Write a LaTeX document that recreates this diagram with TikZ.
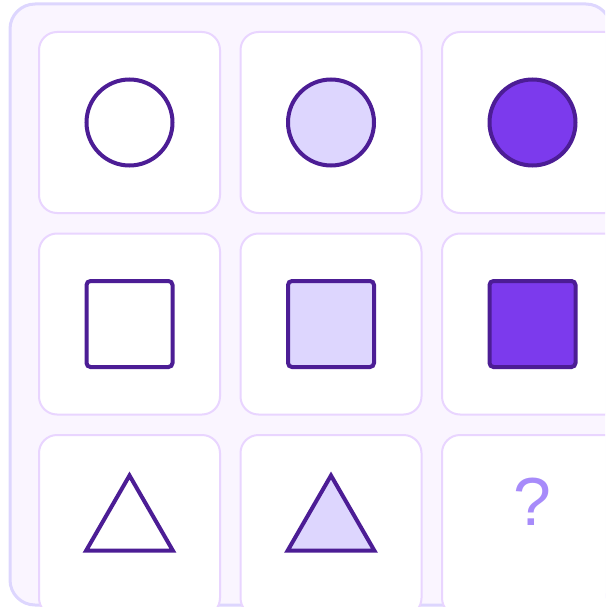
\documentclass[tikz,border=0pt]{standalone}
\usepackage{fontspec}
\setmainfont{Liberation Sans}
\definecolor{panelfill}{HTML}{FAF5FF}
\definecolor{panelline}{HTML}{DDD6FE}
\definecolor{cellline}{HTML}{E9D5FF}
\definecolor{shapeline}{HTML}{4C1D95}
\definecolor{lightfill}{HTML}{DDD6FE}
\definecolor{darkfill}{HTML}{7C3AED}
\definecolor{qcolor}{HTML}{A78BFA}
\begin{document}
\begin{tikzpicture}[x=1pt,y=-1pt,
  cellbox/.style={draw=cellline,line width=2pt,fill=white,rounded corners=18pt,minimum width=181pt,minimum height=181pt,inner sep=0pt},
  circ/.style={circle,draw=shapeline,line width=4pt,minimum size=86pt,inner sep=0pt},
  sq/.style={rectangle,draw=shapeline,line width=4pt,rounded corners=4pt,minimum size=86pt,inner sep=0pt},
  tri/.style={draw=shapeline,line width=4pt,line join=miter}]
\useasboundingbox (0,0) rectangle (605,607);
\begin{scope}
\clip (0,0) rectangle (605,607);
\draw[fill=panelfill,draw=panelline,line width=3pt,rounded corners=25pt] (10,4) rectangle (611,605);
% cells
\foreach \c/\x in {1/129.5,2/331,3/532.5}{
  \foreach \r/\y in {1/122.5,2/324,3/525.5}{
    \node[cellbox] (c\r\c) at (\x,\y) {};
  }
}
% circles
\node[circ,fill=white] (s11) at (c11.center) {};
\node[circ,fill=lightfill] (s12) at (c12.center) {};
\node[circ,fill=darkfill] (s13) at (c13.center) {};
% squares
\node[sq,fill=white] (s21) at (c21.center) {};
\node[sq,fill=lightfill] (s22) at (c22.center) {};
\node[sq,fill=darkfill] (s23) at (c23.center) {};
% triangles
\draw[tri,fill=white] (c31.center) ++(0,-50) -- ++(43.3,75) -- ++(-86.6,0) -- cycle;
\draw[tri,fill=lightfill] (c32.center) ++(0,-50) -- ++(43.3,75) -- ++(-86.6,0) -- cycle;
% question mark
\node[anchor=base,inner sep=0pt,text=qcolor,font=\fontsize{68}{70}\selectfont] (q) at (c33.center) {?};
\end{scope}
\end{tikzpicture}
\end{document}
